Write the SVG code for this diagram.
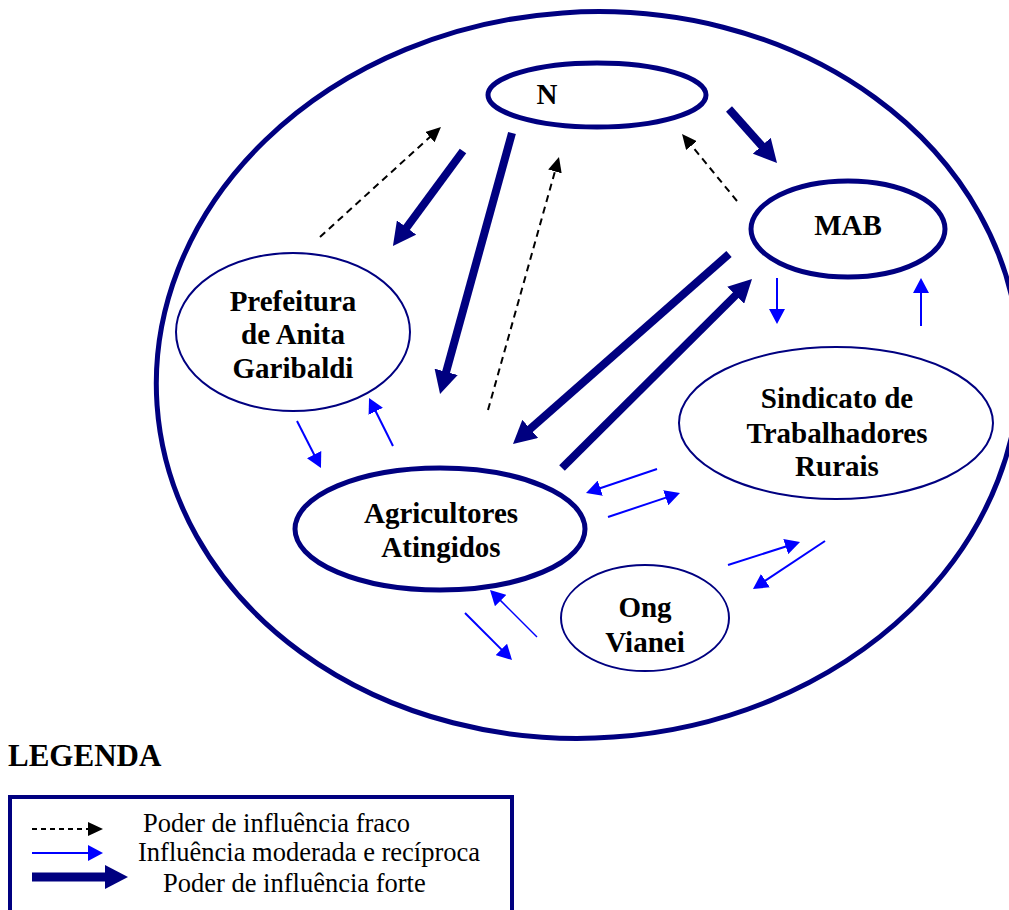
<svg xmlns="http://www.w3.org/2000/svg" width="1009" height="910" viewBox="0 0 1009 910">
<defs>
<style>
.lbl{font-family:"Liberation Serif","Times New Roman",serif;font-weight:bold;font-size:29px;fill:#000;text-anchor:middle}
.leg{font-family:"Liberation Serif","Times New Roman",serif;font-size:26.5px;fill:#000}
.thick{stroke:#000080;stroke-width:8;fill:none;marker-end:url(#hThick)}
.dash{stroke:#000;stroke-width:2;stroke-dasharray:7 5;fill:none;marker-end:url(#hDash)}
.blue{stroke:#0000FF;stroke-width:2;fill:none;marker-end:url(#hBlue)}
.bold-e{fill:#fff;stroke:#000080;stroke-width:5}
.thin-e{fill:#fff;stroke:#000080;stroke-width:2}
</style>
<marker id="hThick" markerUnits="userSpaceOnUse" markerWidth="24" markerHeight="24" refX="1" refY="12" orient="auto"><path d="M0,0 L23,12 L0,24 z" fill="#000080"/></marker>
<marker id="hDash" markerUnits="userSpaceOnUse" markerWidth="15" markerHeight="14" refX="1" refY="7" orient="auto"><path d="M0,0 L15,7 L0,14 z" fill="#000"/></marker>
<marker id="hBlue" markerUnits="userSpaceOnUse" markerWidth="16" markerHeight="16" refX="1" refY="8" orient="auto"><path d="M0,0 L15,8 L0,16 z" fill="#0000FF"/></marker>
</defs>
<rect width="1009" height="910" fill="#fff"/>
<g id="outer">
<ellipse cx="588" cy="375" rx="432" ry="363" transform="rotate(-4 588 375)" fill="none" stroke="#000080" stroke-width="5"/>
</g>
<g id="node-N">
<ellipse class="bold-e" cx="597" cy="95" rx="109" ry="32"/>
<text class="lbl" x="547" y="104">N</text>
</g>
<g id="node-MAB">
<ellipse class="bold-e" cx="848" cy="229" rx="97" ry="48"/>
<text class="lbl" x="848" y="235">MAB</text>
</g>
<g id="node-Prefeitura">
<ellipse class="thin-e" cx="293" cy="332" rx="117" ry="79"/>
<text class="lbl" x="293" y="311">Prefeitura</text>
<text class="lbl" x="293" y="344">de Anita</text>
<text class="lbl" x="293" y="378">Garibaldi</text>
</g>
<g id="node-Sindicato">
<ellipse class="thin-e" cx="836" cy="423" rx="157" ry="76"/>
<text class="lbl" x="837" y="408">Sindicato de</text>
<text class="lbl" x="837" y="443">Trabalhadores</text>
<text class="lbl" x="837" y="476">Rurais</text>
</g>
<g id="node-Agricultores">
<ellipse class="bold-e" cx="440" cy="529" rx="145" ry="61"/>
<text class="lbl" x="441" y="523">Agricultores</text>
<text class="lbl" x="441" y="557">Atingidos</text>
</g>
<g id="node-Ong">
<ellipse class="thin-e" cx="645" cy="618" rx="84" ry="53"/>
<text class="lbl" x="645" y="617">Ong</text>
<text class="lbl" x="645" y="652">Vianei</text>
</g>
<g id="connectors">
<line class="thick" x1="463" y1="151" x2="406" y2="228.3"/>
<line class="thick" x1="512" y1="133" x2="445.9" y2="372.8"/>
<line class="thick" x1="729" y1="109" x2="762.4" y2="146.5"/>
<line class="thick" x1="729" y1="254" x2="529.5" y2="429.5"/>
<line class="thick" x1="562" y1="468" x2="736.4" y2="294.5"/>
<line class="dash" x1="320" y1="237" x2="430.6" y2="136.4"/>
<line class="dash" x1="488" y1="410" x2="555.2" y2="170.5"/>
<line class="dash" x1="737" y1="201" x2="690.9" y2="144.8"/>
<line class="blue" x1="777" y1="278" x2="777" y2="310"/>
<line class="blue" x1="921" y1="326" x2="921" y2="292"/>
<line class="blue" x1="297" y1="421" x2="314.6" y2="455.5"/>
<line class="blue" x1="393" y1="446" x2="375.3" y2="410.5"/>
<line class="blue" x1="657" y1="469" x2="599.3" y2="488.5"/>
<line class="blue" x1="608" y1="517" x2="666.7" y2="497.4"/>
<line class="blue" x1="537" y1="637" x2="499.9" y2="599.9" style="stroke-width:1.5"/>
<line class="blue" x1="465" y1="613" x2="502.1" y2="650.1"/>
<line class="blue" x1="728" y1="565" x2="786.7" y2="546.3"/>
<line class="blue" x1="825" y1="541" x2="764.6" y2="581.2"/>
</g>
<g id="legend">
<text x="8" y="766" style="font-family:'Liberation Serif','Times New Roman',serif;font-weight:bold;font-size:31px">LEGENDA</text>
<rect x="10" y="797" width="502" height="140" fill="none" stroke="#000080" stroke-width="4"/>
<line x1="32" y1="829" x2="89" y2="829" stroke="#000" stroke-width="2" stroke-dasharray="5 4" marker-end="url(#hDash)"/>
<line x1="32" y1="853" x2="89" y2="853" stroke="#0000FF" stroke-width="2" marker-end="url(#hBlue)"/>
<line x1="32" y1="877" x2="106" y2="877" stroke="#000080" stroke-width="9" marker-end="url(#hThick)"/>
<text class="leg" x="143" y="832">Poder de influência fraco</text>
<text class="leg" x="138" y="861">Influência moderada e recíproca</text>
<text class="leg" x="163" y="892">Poder de influência forte</text>
</g>
</svg>
